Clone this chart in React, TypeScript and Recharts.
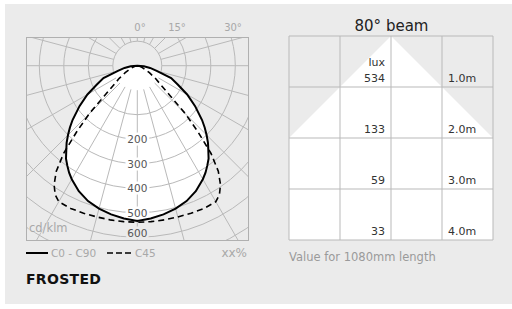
import React from 'react';
import {
  RadarChart, Radar, PolarGrid, PolarAngleAxis, PolarRadiusAxis,
  ComposedChart, Area, XAxis, YAxis, CartesianGrid, Scatter,
} from 'recharts';

// ---------- polar diagram data (cd/klm) ----------
const angles = [0, 5, 10, 15, 20, 25, 30, 32.5, 35, 37.5, 40, 42.5, 45, 47.5, 50, 55, 60, 65, 70, 75, 80, 85, 90];
const c0c90 = [534, 526, 516, 504, 488, 465, 435, 418, 398, 378, 351, 327, 300, 273, 245, 188, 135, 82, 47, -18, -47, -73, -100];
const c45 = [539, 539, 539, 539, 541, 543, 541, 524, 492, 443, 369, 267, 178, 84, 35, -10, -43, -67, -80, -88, -92, -96, -100];
const ringTicks = [100, 200, 300, 400, 500, 600, 700, 800];
const ringLabels = [200, 300, 400, 500, 600];
const spokeAngles = [0, 15, 30, 45, 60, 75, 90, 105, 120, 135, 150, 165, 180, 195, 210, 225, 240, 255, 270, 285, 300, 315, 330, 345];
const topAngleLabels = ['0°', '15°', '30°'];
const unitLabel = 'cd/klm';
const legendLabels = ['C0 - C90', 'C45'];

// ---------- beam diagram data ----------
const beamX = [-2, -1, 0, 1, 2];
const beamStart = [2, 1, 0, 1, 2];
const gridDepth = 4;
const distances = [1, 2, 3, 4];
const luxValues = [534, 133, 59, 33];
const distLabels = ['1.0m', '2.0m', '3.0m', '4.0m'];
const luxUnit = 'lux';
const beamTitle = '80° beam';
const beamNote = 'Value for 1080mm length';

const BG = '#ebebeb';
const GRID = '#b9b9b9';
const FONT = '"DejaVu Sans", Verdana, sans-serif';

// polar geometry
const BOX_L = 26, BOX_T = 37, BOX_W = 222, BOX_H = 203;
const CX = 111.3, CY = 28.7;
const RMIN = -100, RMAX = 700;
const PX_PER_UNIT = 0.245;
const OUTER = (RMAX - RMIN) * PX_PER_UNIT; // 196
const INNER_RING = (0 - RMIN) * PX_PER_UNIT; // 24.5

const polarRows: { theta: number; c0: number; c45: number }[] = [];
for (let i = angles.length - 1; i >= 1; i--) polarRows.push({ theta: -angles[i], c0: c0c90[i], c45: c45[i] });
for (let i = 0; i < angles.length; i++) polarRows.push({ theta: angles[i], c0: c0c90[i], c45: c45[i] });

const beamRows = beamX.map((x, i) => ({ x, span: [beamStart[i], gridDepth] }));
const luxPoints = distances.map((d, i) => ({ x: 0, y: d, label: String(luxValues[i]), unit: i === 0 ? luxUnit : '' }));
const distPoints = distances.map((d, i) => ({ x: 1, y: d, label: distLabels[i] }));

const M0 = { top: 0, right: 0, bottom: 0, left: 0 };

function RingLabel(props: any) {
  const { x, y, payload } = props;
  const v = payload?.value;
  if (!ringLabels.includes(v)) return <g />;
  const yy = Math.min(y, BOX_H - 7.5);
  const halo = v < c0c90[0] ? '#ffffff' : BG;
  return (
    <text x={x} y={yy} textAnchor="middle" dominantBaseline="central" fontSize={10.5}
      fontFamily={FONT} fill="#555" stroke={halo} strokeWidth={5} paintOrder="stroke">
      {v}
    </text>
  );
}

function LuxShape(props: any) {
  const { cx, cy, payload } = props;
  return (
    <g>
      {payload.unit ? (
        <text x={cx - 6} y={cy - 21} textAnchor="end" fontSize={11} fontFamily={FONT} fill="#333">{payload.unit}</text>
      ) : null}
      <text x={cx - 6} y={cy - 5} textAnchor="end" fontSize={11} fontFamily={FONT} fill="#333">{payload.label}</text>
    </g>
  );
}

function DistShape(props: any) {
  const { cx, cy, payload } = props;
  return (
    <text x={cx + 6} y={cy - 5} textAnchor="start" fontSize={11} fontFamily={FONT} fill="#333">{payload.label}</text>
  );
}

const abs = (l: number, t: number, extra: React.CSSProperties = {}): React.CSSProperties => ({ position: 'absolute', left: l, top: t, whiteSpace: 'nowrap', ...extra });

export default function App() {
  return (
    <div style={{ position: 'absolute', left: 0, top: 0, width: 512, height: 309, background: '#fff', overflow: 'hidden', fontFamily: FONT }}>
      <div style={abs(5, 4, { width: 507, height: 300, background: BG })} />

      {/* top angle labels */}
      {topAngleLabels.map((t, i) => (
        <div key={t} style={abs([140, 177, 233][i] - 20, 21, { width: 40, textAlign: 'center', fontSize: 10, color: '#a8a8a8', lineHeight: '14px' })}>{t}</div>
      ))}

      {/* polar diagram */}
      <div style={abs(BOX_L, BOX_T, { width: BOX_W, height: BOX_H, overflow: 'hidden' })}>
        <div style={abs(0, 0)}>
          <RadarChart width={BOX_W} height={BOX_H} cx={CX} cy={CY} innerRadius={0} outerRadius={OUTER}
            startAngle={-180} endAngle={0} data={polarRows} margin={M0}>
            <PolarAngleAxis dataKey="theta" type="number" domain={[-90, 90]} tick={false} axisLine={false} />
            <PolarRadiusAxis domain={[RMIN, RMAX]} tick={false} axisLine={false} tickLine={false} />
            <PolarGrid gridType="circle" radialLines={false} polarRadius={[INNER_RING]} stroke={GRID} />
            <Radar dataKey="c0" fill="#ffffff" fillOpacity={1} stroke="none" isAnimationActive={false} />
          </RadarChart>
        </div>
        <div style={abs(0, 0)}>
          <RadarChart width={BOX_W} height={BOX_H} cx={CX} cy={CY} innerRadius={INNER_RING} outerRadius={INNER_RING + 800 * PX_PER_UNIT}
            startAngle={-180} endAngle={0} data={polarRows} margin={M0}>
            <PolarAngleAxis dataKey="theta" type="number" domain={[-90, 90]} tick={false} axisLine={false} />
            <PolarGrid gridType="circle" polarAngles={spokeAngles} stroke={GRID} />
            <PolarRadiusAxis domain={[0, 800]} ticks={ringTicks as any} angle={-90} allowDataOverflow
              tick={RingLabel} axisLine={false} tickLine={false} />
          </RadarChart>
        </div>
        <div style={abs(0, 0)}>
          <RadarChart width={BOX_W} height={BOX_H} cx={CX} cy={CY} innerRadius={0} outerRadius={OUTER}
            startAngle={-180} endAngle={0} data={polarRows} margin={M0}>
            <PolarAngleAxis dataKey="theta" type="number" domain={[-90, 90]} tick={false} axisLine={false} />
            <PolarRadiusAxis domain={[RMIN, RMAX]} tick={false} axisLine={false} tickLine={false} />
            <Radar dataKey="c45" fill="none" fillOpacity={0} stroke="#000" strokeWidth={1.6} strokeDasharray="6 4" isAnimationActive={false} />
            <Radar dataKey="c0" fill="none" fillOpacity={0} stroke="#000" strokeWidth={2} isAnimationActive={false} />
          </RadarChart>
        </div>
        <div style={abs(3, 184, { fontSize: 11.5, color: '#a8a8a8', lineHeight: '14px', textShadow: `0 0 2px ${BG}, 0 0 2px ${BG}, 0 0 2px ${BG}` })}>
          {unitLabel}
        </div>
      </div>
      <div style={abs(BOX_L, BOX_T, { width: BOX_W + 1, height: BOX_H + 1, boxSizing: 'border-box', border: `1px solid #b0b0b0` })} />

      {/* legend */}
      <svg style={abs(24, 246)} width={230} height={14}>
        <line x1={2} x2={24} y1={7} y2={7} stroke="#000" strokeWidth={2} />
        <line x1={83} x2={107} y1={7} y2={7} stroke="#000" strokeWidth={1.6} strokeDasharray="6 3" />
      </svg>
      <div style={abs(51, 246, { fontSize: 10.5, color: '#a8a8a8', lineHeight: '14px' })}>{legendLabels[0]}</div>
      <div style={abs(135, 246, { fontSize: 10.5, color: '#a8a8a8', lineHeight: '14px' })}>{legendLabels[1]}</div>
      <div style={abs(200, 245, { width: 47, textAlign: 'right', fontSize: 12, color: '#a8a8a8', lineHeight: '16px' })}>xx%</div>
      <div style={abs(26, 271, { width: 90, fontSize: 14, fontWeight: 'bold', color: '#111', lineHeight: '16px', letterSpacing: 0.3 })}>FROSTED</div>

      {/* beam diagram */}
      <div style={abs(289, 17, { width: 205, textAlign: 'center', fontSize: 15, color: '#222', lineHeight: '18px' })}>{beamTitle}</div>
      <div style={abs(288, 35)}>
        <ComposedChart width={206} height={206} data={beamRows} margin={{ top: 1, right: 1, bottom: 1, left: 1 }}>
          <XAxis dataKey="x" type="number" domain={[-2, 2]} hide />
          <YAxis type="number" domain={[0, gridDepth]} reversed hide />
          <Area dataKey="span" type="linear" fill="#ffffff" fillOpacity={1} stroke="none" isAnimationActive={false} />
        </ComposedChart>
      </div>
      <div style={abs(288, 35)}>
        <ComposedChart width={206} height={206} margin={{ top: 1, right: 1, bottom: 1, left: 1 }}>
          <XAxis dataKey="x" type="number" domain={[-2, 2]} ticks={[-2, -1, 0, 1, 2]} hide />
          <YAxis dataKey="y" type="number" domain={[0, gridDepth]} ticks={[0, 1, 2, 3, 4]} reversed hide />
          <CartesianGrid stroke={GRID} />
          <Scatter data={luxPoints} shape={LuxShape} isAnimationActive={false} />
          <Scatter data={distPoints} shape={DistShape} isAnimationActive={false} />
        </ComposedChart>
      </div>
      <div style={abs(289, 249, { fontSize: 11.5, color: '#9a9a9a', lineHeight: '16px' })}>{beamNote}</div>
    </div>
  );
}
